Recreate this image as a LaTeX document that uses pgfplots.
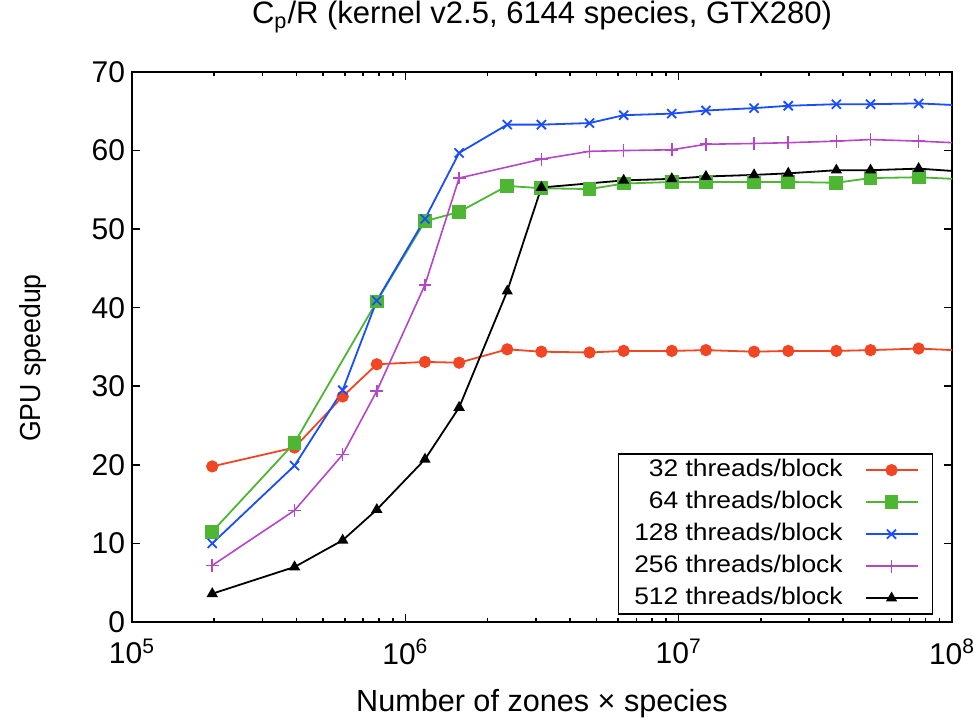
\documentclass[border=0pt]{standalone}
\usepackage{fontspec}
\setmainfont{Liberation Sans}
\newfontfamily\legendfont[FakeStretch=1.1]{Liberation Sans}
\newfontfamily\narrowfont[FakeStretch=0.92]{Liberation Sans}
\usepackage{pgfplots}
\pgfplotsset{compat=1.18}

\definecolor{cRed}{RGB}{241,70,36}
\definecolor{cGreen}{RGB}{77,182,50}
\definecolor{cBlue}{RGB}{26,77,255}
\definecolor{cPurple}{RGB}{180,70,200}

\begin{document}
\begin{tikzpicture}
\begin{axis}[
  scale only axis,
  width=410pt, height=275pt,
  xmode=log,
  xmin=1e5, xmax=1e8,
  ymin=0, ymax=70,
  xtick={1e5,1e6,1e7,1e8},
  xticklabels={10\textsuperscript{5},10\textsuperscript{6},10\textsuperscript{7},10\textsuperscript{8}},
  minor xtick={2e5,3e5,4e5,5e5,6e5,7e5,8e5,9e5,2e6,3e6,4e6,5e6,6e6,7e6,8e6,9e6,2e7,3e7,4e7,5e7,6e7,7e7,8e7,9e7},
  ytick={0,10,...,70},
  minor ytick={},
  tick align=inside,
  major tick length=4pt,
  minor tick length=2pt,
  axis line style={line width=0.9pt},
  every tick/.style={black, line width=0.8pt},
  /pgf/number format/assume math mode=true,
  ticklabel style={font=\fontsize{15}{18}\selectfont},
  xticklabel style={yshift=-5pt},
  title={C\textsubscript{p}/R (kernel v2.5, 6144 species, GTX280)},
  title style={font=\fontsize{15.5}{18}\selectfont, at={(0.5,1)}, anchor=base, yshift=18pt},
  xlabel={Number of zones \texttimes{} species},
  every axis x label/.style={at={(axis description cs:0.5,0)}, anchor=base, yshift=-45pt, font=\fontsize{15.3}{18}\selectfont},
  ylabel={GPU speedup},
  every axis y label/.style={at={(axis description cs:-0.112,0.48)}, rotate=90, anchor=base, font=\narrowfont\fontsize{14.5}{17}\selectfont},
  legend cell align=right,
  legend plot pos=right,
  legend image code/.code={
    \draw[#1,mark indices={2}] plot coordinates {(0pt,0pt) (13pt,0pt) (26pt,0pt)};
  },
  legend style={
    at={(0.977,0.013)}, anchor=south east,
    font=\legendfont\fontsize{12}{14}\selectfont,
    draw=black, line width=0.7pt,
    inner xsep=7pt, inner ysep=1.75pt,
    row sep=3.5pt, column sep=10pt,
    nodes={text height=9pt, text depth=2.5pt, inner ysep=0.5pt, inner xsep=1pt},
  },
  every axis plot/.append style={line width=0.9pt},
]

% 32 threads per block
\addplot[color=cRed, mark=*, mark size=2.6pt, mark indices={1,2,3,4,5,6,7,8,9,10,11,12,13,14,15,16,17}] coordinates {
  (196608,19.8) (393216,22.2) (589824,28.7) (786432,32.8) (1179648,33.1)
  (1572864,33.0) (2359296,34.7) (3145728,34.4) (4718592,34.3) (6291456,34.5)
  (9437184,34.5) (12582912,34.6) (18874368,34.4) (25165824,34.5) (37748736,34.5)
  (50331648,34.6) (75497472,34.8) (100663296,34.6)
};
\addlegendentry{32 threads/block}

% 64 threads per block
\addplot[color=cGreen, mark=square*, mark size=3pt, mark indices={1,2,3,4,5,6,7,8,9,10,11,12,13,14,15,16}] coordinates {
  (196608,11.5) (393216,22.8) (786432,40.8) (1179648,51.0)
  (1572864,52.2) (2359296,55.5) (3145728,55.2) (4718592,55.1) (6291456,55.8)
  (9437184,56.0) (12582912,56.0) (18874368,56.0) (25165824,56.0) (37748736,55.9)
  (50331648,56.5) (75497472,56.6) (100663296,56.4)
};
\addlegendentry{64 threads/block}

% 128 threads per block
\addplot[color=cBlue, mark=x, mark size=3.2pt, mark indices={1,2,3,4,5,6,7,8,9,10,11,12,13,14,15,16,17}] coordinates {
  (196608,10.0) (393216,19.9) (589824,29.5) (786432,40.9) (1179648,51.3)
  (1572864,59.7) (2359296,63.3) (3145728,63.3) (4718592,63.5) (6291456,64.5)
  (9437184,64.7) (12582912,65.1) (18874368,65.4) (25165824,65.7) (37748736,65.9)
  (50331648,65.9) (75497472,66.0) (100663296,65.8)
};
\addlegendentry{128 threads/block}

% 256 threads per block
\addplot[color=cPurple, mark=+, mark size=3.2pt, line width=0.8pt, mark indices={1,2,3,4,5,6,7,8,9,10,11,12,13,14,15,16}] coordinates {
  (196608,7.2) (393216,14.2) (589824,21.3) (786432,29.4) (1179648,42.9)
  (1572864,56.5) (3145728,58.9) (4718592,59.9) (6291456,60.0)
  (9437184,60.1) (12582912,60.8) (18874368,60.9) (25165824,61.0) (37748736,61.2)
  (50331648,61.4) (75497472,61.2) (100663296,61.0)
};
\addlegendentry{256 threads/block}

% 512 threads per block
\addplot[color=black, mark=triangle*, mark size=2.4pt, mark indices={1,2,3,4,5,6,7,8,9,10,11,12,13,14,15,16}] coordinates {
  (196608,3.6) (393216,7.0) (589824,10.4) (786432,14.3) (1179648,20.7)
  (1572864,27.3) (2359296,42.1) (3145728,55.3) (6291456,56.2)
  (9437184,56.4) (12582912,56.7) (18874368,56.9) (25165824,57.1) (37748736,57.5)
  (50331648,57.5) (75497472,57.7) (100663296,57.4)
};
\addlegendentry{512 threads/block}

\end{axis}
\pgfresetboundingbox
\path ([xshift=-66pt,yshift=-48.5pt]current axis.south west) rectangle ([xshift=11pt,yshift=36pt]current axis.north east);
\end{tikzpicture}
\end{document}
